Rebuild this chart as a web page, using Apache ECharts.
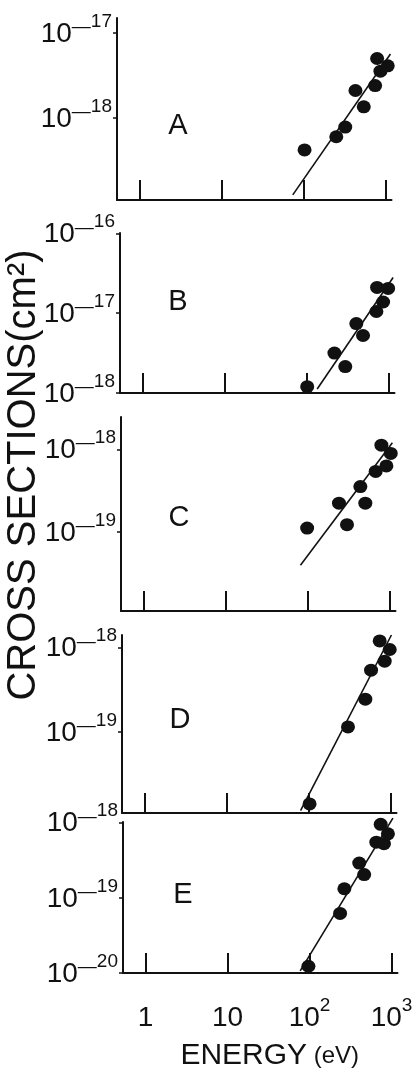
<!DOCTYPE html>
<html><head><meta charset="utf-8">
<script src="https://cdn.jsdelivr.net/npm/echarts@6/dist/echarts.min.js"></script>
<style>html,body{margin:0;padding:0;background:#fff}#c{width:420px;height:1072px}</style>
</head><body><div id="c"></div>
<script>
// ---- data (energy in eV, cross section in cm^2) ----
const panelLabels = ['A', 'B', 'C', 'D', 'E'];
const xTickValues = [1, 10, 100, 1000];
const xRange = [0.532, 1183];
const yTickValues = [[1e-17, 1e-18], [1e-16, 1e-17, 1e-18], [1e-18, 1e-19], [1e-18, 1e-19], [1e-18, 1e-19, 1e-20]];
const yRanges = [[1.08e-19, 1.5e-17], [1e-18, 1.01e-16], [1.12e-20, 2.45e-18], [1.1e-20, 1.41e-18], [1e-20, 1.02e-18]];

const pointsA = [[103, 4.2e-19], [251, 6.0e-19], [323, 7.8e-19], [430, 2.1e-18], [543, 1.35e-18], [747, 2.4e-18], [790, 5.0e-18], [867, 3.55e-18], [1064, 4.1e-18]];
const fitA = [[74, 1.24e-19], [1148, 5.66e-18]];
const pointsB = [[102, 1.2e-18], [219, 3.16e-18], [297, 2.14e-18], [405, 7.4e-18], [489, 5.25e-18], [711, 1.05e-17], [859, 1.38e-17], [725, 2.1e-17], [989, 2.04e-17]];
const fitB = [[135, 1.12e-18], [1138, 2.8e-17]];
const pointsC = [[99, 1.12e-19], [303, 1.23e-19], [242, 2.24e-19], [507, 2.24e-19], [441, 3.55e-19], [678, 5.4e-19], [916, 6.3e-19], [796, 1.12e-18], [1035, 8.9e-19]];
const fitC = [[82, 3.98e-20], [1084, 1.2e-18]];
const pointsD = [[103, 1.41e-20], [303, 1.15e-19], [493, 2.45e-19], [579, 5.4e-19], [849, 6.9e-19], [738, 1.2e-18], [978, 9.5e-19]];
const fitD = [[80, 1.17e-20], [1026, 1.41e-18]];
const pointsE = [[97, 1.23e-20], [236, 6.2e-20], [266, 1.32e-19], [464, 2.04e-19], [404, 2.9e-19], [653, 5.5e-19], [809, 5.25e-19], [904, 7.1e-19], [738, 9.5e-19]];
const fitE = [[77, 1.07e-20], [1040, 1.15e-18]];

// ---- layout / style ----
const UNIT = 1e-20; // plotted in units of 1e-20 cm^2 (labels convert back)
const FONT = '"Liberation Sans", Arial, Helvetica, sans-serif';
const INK = '#111';
const layout = [
  { left: 117, top: 18, height: 182 },
  { left: 120, top: 233, height: 160 },
  { left: 121, top: 417, height: 194 },
  { left: 122, top: 635, height: 178 },
  { left: 123, top: 822, height: 164 }
];
const W = 274.5;
const letterPos = [[178, 126], [178, 302], [179, 518], [180, 720], [183, 895]];

const points = [pointsA, pointsB, pointsC, pointsD, pointsE];
const fits = [fitA, fitB, fitC, fitD, fitE];
const toUnits = arr => arr.map(p => [p[0], p[1] / UNIT]);

const xFmt = v => {
  const e = Math.round(Math.log10(v));
  if (e <= 1) return '{b|' + Math.round(v) + '}';
  return '{b|10}{s|' + e + '}';
};
const yFmt = v => {
  const e = Math.round(Math.log10(v * UNIT));
  return '{b|10}{d|—}{s|' + (-e) + '}';
};

const grid = layout.map(g => ({ left: g.left, top: g.top, width: W, height: g.height }));
const xAxis = layout.map((g, i) => ({
  gridIndex: i, type: 'log', logBase: 10, min: xRange[0], max: xRange[1],
  axisLine: { show: true, onZero: false, lineStyle: { color: INK, width: 2 } },
  axisTick: { show: true, inside: true, length: 20, customValues: xTickValues, lineStyle: { color: INK, width: 2 } },
  axisLabel: {
    show: i === 4, customValues: xTickValues, margin: 23, formatter: xFmt,
    rich: {
      b: { fontSize: 28, fontFamily: FONT, color: INK, verticalAlign: 'bottom', padding: [8, 0, 0, 0] },
      s: { fontSize: 19, fontFamily: FONT, color: INK, verticalAlign: 'top' }
    }
  },
  splitLine: { show: false },
  name: i === 4 ? '{a|ENERGY}{c| (eV)}' : '',
  nameLocation: 'middle', nameGap: 68,
  nameTextStyle: {
    padding: [0, 0, 0, 19],
    rich: {
      a: { fontSize: 30, fontFamily: FONT, color: INK },
      c: { fontSize: 24, fontFamily: FONT, color: INK }
    }
  }
}));
const yAxis = layout.map((g, i) => ({
  gridIndex: i, type: 'log', logBase: 10,
  min: yRanges[i][0] / UNIT, max: yRanges[i][1] / UNIT,
  axisLine: { show: true, onZero: false, lineStyle: { color: INK, width: 2 } },
  axisTick: { show: true, inside: false, length: 4, customValues: yTickValues[i].map(v => v / UNIT), lineStyle: { color: INK, width: 1.5 } },
  axisLabel: {
    show: true, customValues: yTickValues[i].map(v => v / UNIT), margin: 5, formatter: yFmt,
    padding: [0, 0, 6, 0],
    rich: {
      b: { fontSize: 28, fontFamily: FONT, color: INK, verticalAlign: 'bottom', padding: [8, 0, 0, 0] },
      d: { fontSize: 19, fontFamily: FONT, color: INK, verticalAlign: 'middle', padding: [0, 0, 6, 0] },
      s: { fontSize: 19, fontFamily: FONT, color: INK, verticalAlign: 'top' }
    }
  },
  splitLine: { show: false }
}));

const series = [];
points.forEach((p, i) => {
  series.push({
    type: 'scatter', xAxisIndex: i, yAxisIndex: i, data: toUnits(p),
    symbol: 'circle', symbolSize: [14, 13], itemStyle: { color: INK, opacity: 1 }, clip: false, silent: true
  });
  series.push({
    type: 'line', xAxisIndex: i, yAxisIndex: i, data: toUnits(fits[i]),
    symbol: 'none', showSymbol: false, lineStyle: { color: INK, width: 1.6 }, clip: false, silent: true
  });
});

const graphic = panelLabels.map((t, i) => ({
  type: 'text', x: letterPos[i][0], y: letterPos[i][1],
  style: { text: t, fontSize: 29, fontFamily: FONT, fill: INK, align: 'center', verticalAlign: 'middle', textAlign: 'center', textVerticalAlign: 'middle' }
}));
graphic.push({
  type: 'text', x: 24, y: 475, rotation: Math.PI / 2,
  style: { text: 'CROSS SECTIONS(cm²)', fontSize: 40, fontFamily: FONT, fill: INK, align: 'center', verticalAlign: 'middle', textAlign: 'center', textVerticalAlign: 'middle' }
});

const chart = echarts.init(document.getElementById('c'), null, { renderer: 'canvas' });
chart.setOption({
  backgroundColor: '#fff',
  animation: false,
  grid, xAxis, yAxis, series, graphic
});
</script>
</body></html>
